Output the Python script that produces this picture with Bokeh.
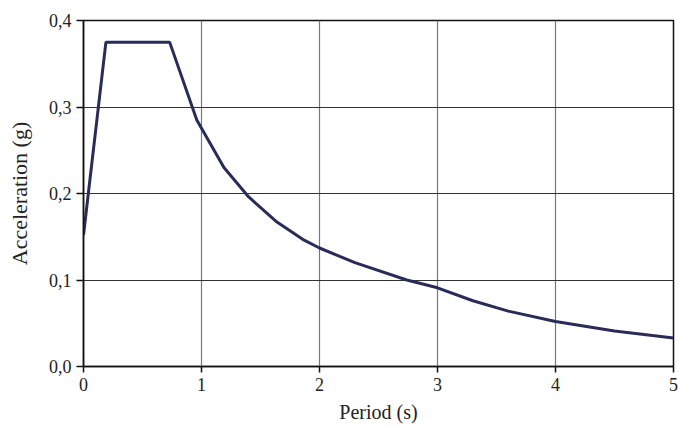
from bokeh.plotting import figure
from bokeh.models import FixedTicker, Range1d
from bokeh.embed import file_html
from bokeh.resources import INLINE

# Data
period = [0.0, 0.19, 0.73, 0.96, 1.19, 1.40, 1.63, 1.87, 2.0, 2.3, 2.74, 3.0,
          3.3, 3.6, 4.0, 4.5, 5.0]
accel = [0.152, 0.375, 0.375, 0.285, 0.230, 0.196, 0.168, 0.146, 0.137, 0.120,
         0.100, 0.091, 0.076, 0.064, 0.052, 0.041, 0.033]

x_ticks = [0, 1, 2, 3, 4, 5]
y_ticks = [0.0, 0.1, 0.2, 0.3, 0.4]
y_tick_labels = ["0,0", "0,1", "0,2", "0,3", "0,4"]

FONT = "Liberation Serif"

p = figure(width=678, height=427, output_backend="svg", toolbar_location=None,
           x_range=Range1d(0, 5), y_range=Range1d(0, 0.4),
           min_border_left=83, min_border_top=20, min_border_right=5,
           min_border_bottom=61)
p.background_fill_color = "white"
p.border_fill_color = "white"
p.outline_line_color = "#111111"
p.outline_line_width = 1.5

p.line(period, accel, line_color="#2a2c58", line_width=3)

p.xaxis.ticker = FixedTicker(ticks=x_ticks)
p.yaxis.ticker = FixedTicker(ticks=y_ticks)
p.yaxis.major_label_overrides = dict(zip(y_ticks, y_tick_labels))

for ax in (p.xaxis[0], p.yaxis[0]):
    ax.axis_line_color = "#111111"
    ax.axis_line_width = 1.5
    ax.major_tick_line_color = "#111111"
    ax.major_tick_line_width = 1.5
    ax.major_tick_in = 0
    ax.minor_tick_line_color = None
    ax.major_label_text_font = FONT
    ax.major_label_text_font_size = "18px"
    ax.major_label_text_color = "#222222"
    ax.axis_label_text_font = FONT
    ax.axis_label_text_font_style = "normal"
    ax.axis_label_text_color = "#222222"

p.xaxis.axis_label_text_font_size = "20px"
p.yaxis.axis_label_text_font_size = "22px"
p.xaxis.major_tick_out = 6
p.yaxis.major_tick_out = 7
p.xaxis.major_label_standoff = 5
p.yaxis.major_label_standoff = 5
p.xaxis.axis_label = "Period (s)"
p.yaxis.axis_label = "Acceleration (g)"
p.xaxis.axis_label_standoff = 7
p.yaxis.axis_label_standoff = 14

p.xgrid.ticker = FixedTicker(ticks=x_ticks)
p.ygrid.ticker = FixedTicker(ticks=y_ticks)
p.xgrid.grid_line_color = "#777777"
p.ygrid.grid_line_color = "#333333"
p.xgrid.grid_line_width = 1.2
p.ygrid.grid_line_width = 1.2

open("out.html", "w").write(file_html(p, INLINE))
